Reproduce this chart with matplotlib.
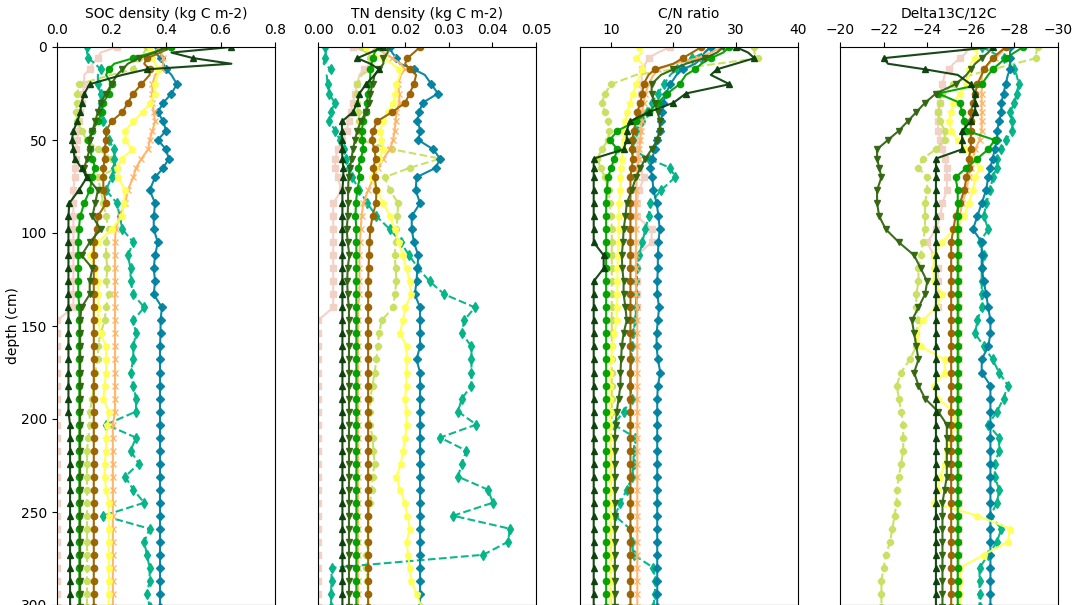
import numpy as np
import matplotlib
matplotlib.use("Agg")
import matplotlib.pyplot as plt

nan = np.nan

# ============================
#       DATA
# ============================

depth = [0, 3, 6, 9, 12, 15, 20, 25, 30, 35, 40, 45, 50, 55, 60, 65, 70,
         77, 84, 91, 98, 105, 112, 119, 126, 133, 140, 147,
         154, 161, 168, 175, 182, 189, 196, 203, 210, 217, 224,
         231, 238, 245, 252, 259, 266, 273, 280, 287, 294, 301]

# --- SOC density (kg C m-2) ---
soc_p1 = [0.64, 0.42, 0.50, 0.64, 0.33, 0.24, 0.12, 0.10, 0.09, 0.085, 0.075, 0.06, 0.055, 0.06, 0.065, 0.09, 0.11,
          0.08, 0.045, 0.042, 0.042, 0.042, 0.042, 0.042, 0.042, 0.042, 0.042, 0.042,
          0.042, 0.042, 0.042, 0.042, 0.042, 0.042, 0.042, 0.048, 0.048, 0.048, 0.048,
          0.048, 0.048, 0.048, 0.048, 0.048, 0.048, 0.048, 0.048, 0.048, 0.048, 0.048]
soc_p2 = [0.40, 0.36, 0.30, 0.26, 0.24, 0.22, 0.20, 0.18, 0.16, 0.15, 0.14, 0.13, 0.12, 0.12, 0.11, 0.10, 0.11,
          0.15, 0.14, 0.13, 0.16, 0.12, 0.09, 0.13, 0.12, 0.12, 0.09, 0.085,
          0.085, 0.085, 0.085, 0.085, 0.085, 0.085, 0.085, 0.085, 0.085, 0.085, 0.085,
          0.085, 0.085, 0.085, 0.085, 0.085, 0.085, 0.085, 0.085, 0.085, 0.085, 0.085]
soc_p3 = [0.42, 0.35, 0.28, 0.21, 0.19, 0.18, 0.20, 0.19, 0.17, 0.165, 0.15, 0.13, 0.115, 0.12, 0.13, 0.14, 0.13,
          0.12, 0.10, 0.085, 0.08, 0.078, 0.078, 0.078, 0.078, 0.078, 0.082, 0.082,
          0.082, 0.082, 0.082, 0.082, 0.082, 0.082, 0.082, 0.082, 0.082, 0.082, 0.082,
          0.082, 0.082, 0.082, 0.082, 0.082, 0.082, 0.082, 0.082, 0.082, 0.082, 0.082]
soc_p4 = [0.33, 0.32, 0.30, 0.29, 0.28, 0.20, 0.08, 0.075, 0.073, 0.07, 0.075, 0.09, 0.11, 0.15, 0.20, 0.22, 0.15,
          0.16, 0.17, 0.18, 0.19, 0.18, 0.18, 0.185, 0.18, 0.19, 0.18, 0.175,
          0.16, 0.15, 0.15, 0.14, 0.135, 0.13, 0.12, 0.12, 0.115, 0.11, 0.11,
          0.11, 0.11, 0.11, 0.11, 0.11, 0.11, 0.11, 0.11, 0.11, 0.11, 0.11]
soc_p5 = [0.42, 0.38, 0.33, 0.32, 0.34, 0.34, 0.31, 0.28, 0.26, 0.24, 0.20, 0.18, 0.18, 0.175, 0.175, 0.17, 0.17,
          0.17, 0.18, 0.15, 0.145, 0.135, 0.135, 0.135, 0.135, 0.135, 0.135, 0.135,
          0.135, 0.135, 0.135, 0.135, 0.135, 0.135, 0.135, 0.135, 0.135, 0.135, 0.135,
          0.135, 0.135, 0.135, 0.135, 0.135, 0.135, 0.135, 0.135, 0.135, 0.135, 0.135]
soc_p6 = [0.37, 0.38, 0.39, 0.39, 0.385, 0.36, 0.35, 0.35, 0.35, 0.355, 0.36, 0.35, 0.34, 0.335, 0.31, 0.29, 0.28,
          0.26, 0.25, 0.23, 0.215, 0.213, 0.213, 0.213, 0.213, 0.213, 0.213, 0.213,
          0.213, 0.213, 0.213, 0.213, 0.213, 0.213, 0.213, 0.205, 0.205, 0.205, 0.205,
          0.205, 0.205, 0.205, 0.205, 0.205, 0.205, 0.205, 0.205, 0.205, 0.205, 0.205]
soc_p7 = [0.34, 0.35, 0.35, 0.36, 0.37, 0.37, 0.36, 0.36, 0.34, 0.315, 0.28, 0.25, 0.25, 0.275, 0.24, 0.22, 0.225,
          0.25, 0.245, 0.24, 0.20, 0.15, 0.12, 0.14, 0.15, 0.15, 0.15, 0.15,
          0.16, 0.18, 0.18, 0.18, 0.175, 0.17, 0.19, 0.185, 0.18, 0.18, 0.175,
          0.175, 0.18, 0.19, 0.19, 0.19, 0.19, 0.19, 0.19, 0.19, 0.19, 0.19]
soc_p8 = [0.11, 0.11, 0.115, 0.14, 0.16, 0.15, 0.15, 0.16, 0.16, 0.16, 0.17, 0.18, 0.19, 0.21, 0.21, 0.21, 0.20,
          0.18, 0.22, 0.23, 0.24, 0.28, 0.26, 0.27, 0.27, 0.28, 0.32, 0.28,
          0.29, 0.28, 0.28, 0.27, 0.28, 0.29, 0.29, 0.18, 0.29, 0.27, 0.30,
          0.25, 0.28, 0.32, 0.17, 0.34, 0.32, 0.33, 0.34, 0.34, 0.33, 0.34]
soc_p9 = [0.37, 0.36, 0.38, 0.39, 0.40, 0.42, 0.44, 0.42, 0.39, 0.37, 0.39, 0.40, 0.37, 0.40, 0.41, 0.39, 0.36,
          0.34, 0.36, 0.355, 0.355, 0.37, 0.36, 0.355, 0.36, 0.355, 0.385, 0.38,
          0.38, 0.378, 0.378, 0.378, 0.378, 0.378, 0.378, 0.378, 0.378, 0.378, 0.378,
          0.378, 0.378, 0.378, 0.378, 0.378, 0.378, 0.378, 0.378, 0.378, 0.378, 0.378]
soc_p10 = [0.22, 0.16, 0.15, 0.13, 0.12, 0.10, 0.10, 0.095, 0.09, 0.085, 0.08, 0.078, 0.075, 0.07, 0.068, 0.066, 0.065,
           0.06, 0.06, 0.06, 0.06, 0.06, 0.06, 0.06, 0.06, 0.06, 0.06, 0.0,
           0.0, 0.0, 0.0, 0.0, 0.0, 0.0, 0.0, 0.0, 0.0, 0.0, 0.0,
           0.0, 0.0, 0.0, 0.0, 0.0, 0.0, 0.0, 0.0, 0.0, 0.0, 0.0]

# --- TN density ---
tn_p1 = [0.015, 0.012, 0.009, 0.012, 0.014, 0.013, 0.011, 0.0095, 0.009, 0.008, 0.0055, 0.0055, 0.0055, 0.0055, 0.0056, 0.0058, 0.0058,
         0.0056, 0.0056, 0.0056, 0.0056, 0.0056, 0.0056, 0.0056, 0.0056, 0.0056, 0.0056, 0.0056,
         0.0056, 0.0056, 0.0056, 0.0056, 0.0056, 0.0056, 0.0056, 0.0056, 0.0056, 0.0056, 0.0056,
         0.0056, 0.0056, 0.0056, 0.0056, 0.0056, 0.0056, 0.0056, 0.0056, 0.0056, 0.0056, 0.0056]
tn_p2 = [0.016, 0.016, 0.015, 0.015, 0.014, 0.013, 0.0125, 0.012, 0.0118, 0.011, 0.0098, 0.009, 0.0085, 0.008, 0.0077, 0.0073, 0.007,
         0.0069, 0.0069, 0.0068, 0.0066, 0.0068, 0.0072, 0.0068, 0.0067, 0.0068, 0.0071, 0.0071,
         0.0071, 0.0071, 0.0071, 0.0071, 0.0071, 0.0071, 0.0071, 0.0071, 0.0071, 0.0071, 0.0071,
         0.0071, 0.0071, 0.0071, 0.0071, 0.0071, 0.0071, 0.0071, 0.0071, 0.0071, 0.0071, 0.0071]
tn_p3 = [0.014, 0.013, 0.0125, 0.0123, 0.012, 0.012, 0.0118, 0.0115, 0.0112, 0.011, 0.0104, 0.010, 0.0102, 0.0104, 0.0098, 0.0092, 0.0096,
         0.009, 0.0087, 0.0086, 0.0088, 0.0088, 0.0088, 0.0088, 0.0088, 0.0088, 0.0088, 0.0088,
         0.0088, 0.0088, 0.0088, 0.0088, 0.0088, 0.0088, 0.0088, 0.0088, 0.0088, 0.0088, 0.0088,
         0.0088, 0.0088, 0.0088, 0.0088, 0.0088, 0.0088, 0.0088, 0.0088, 0.0088, 0.0088, 0.0088]
tn_p4 = [0.010, 0.011, 0.012, 0.013, 0.012, 0.010, 0.009, 0.0089, 0.009, 0.0092, 0.0095, 0.0096, 0.0098, 0.017, 0.028, 0.021, 0.0153,
         0.0165, 0.0184, 0.0182, 0.018, 0.0178, 0.0176, 0.0178, 0.018, 0.0176, 0.0173, 0.0146,
         0.014, 0.0137, 0.0134, 0.013, 0.0125, 0.012, 0.012, 0.0119, 0.0125, 0.0127, 0.013,
         0.0125, 0.0123, 0.012, 0.0115, 0.0115, 0.0113, 0.0111, 0.0111, 0.0113, 0.0115, 0.0115]
tn_p5 = [0.0234, 0.022, 0.0205, 0.020, 0.021, 0.0225, 0.022, 0.021, 0.020, 0.017, 0.0135, 0.0127, 0.0123, 0.013, 0.0132, 0.0127, 0.013,
         0.0134, 0.0133, 0.0125, 0.012, 0.0118, 0.0117, 0.0116, 0.0115, 0.0115, 0.0115, 0.0115,
         0.0115, 0.0115, 0.0115, 0.0115, 0.0115, 0.0115, 0.0115, 0.0115, 0.0115, 0.0115, 0.0115,
         0.0115, 0.0115, 0.0115, 0.0115, 0.0115, 0.0115, 0.0115, 0.0115, 0.0115, 0.0115, 0.0115]
tn_p6 = [0.013, 0.015, 0.017, 0.019, 0.0199, 0.019, 0.0184, 0.0186, 0.0187, 0.018, 0.0178, 0.0176, 0.0172, 0.0165, 0.015, 0.0138, 0.0128,
         0.0115, 0.0104, 0.010, 0.0098, 0.0096, 0.0095, 0.0095, 0.0095, 0.0095, 0.0092, 0.0092,
         0.0092, 0.0092, 0.0092, 0.0092, 0.0092, 0.0092, 0.0092, 0.0092, 0.0092, 0.0092, 0.0092,
         0.0092, 0.0092, 0.0092, 0.0092, 0.0092, 0.0092, 0.0092, 0.0092, 0.0092, 0.0092, 0.0092]
tn_p7 = [0.011, 0.012, 0.015, 0.017, 0.0185, 0.0188, 0.018, 0.0177, 0.0173, 0.016, 0.015, 0.0142, 0.0145, 0.015, 0.014, 0.013, 0.0123,
         0.0135, 0.015, 0.0165, 0.0176, 0.0185, 0.0194, 0.0203, 0.021, 0.0214, 0.020, 0.0195,
         0.0188, 0.0203, 0.0203, 0.0203, 0.0203, 0.0199, 0.0203, 0.0203, 0.020, 0.0195, 0.019,
         0.018, 0.0188, 0.0199, 0.0205, 0.0211, 0.0203, 0.0207, 0.021, 0.0214, 0.0226, 0.0237]
tn_p8 = [0.0016, 0.0018, 0.0015, 0.0013, 0.003, 0.002, 0.0022, 0.0026, 0.0038, 0.003, 0.0025, 0.004, 0.005, 0.006, 0.0065, 0.007, 0.0078,
         0.0095, 0.0113, 0.0134, 0.0165, 0.019, 0.0209, 0.023, 0.0256, 0.029, 0.036, 0.0335,
         0.033, 0.0352, 0.0352, 0.0352, 0.0352, 0.033, 0.0321, 0.0363, 0.028, 0.034, 0.033,
         0.0321, 0.039, 0.0401, 0.031, 0.044, 0.0436, 0.0379, 0.0031, 0.0031, 0.003, 0.003]
tn_p9 = [0.0165, 0.017, 0.018, 0.0188, 0.022, 0.0245, 0.026, 0.0275, 0.024, 0.0232, 0.0228, 0.0235, 0.023, 0.0264, 0.028, 0.027, 0.0226,
         0.0224, 0.0234, 0.0215, 0.0215, 0.022, 0.023, 0.0228, 0.0226, 0.0222, 0.0234, 0.0234,
         0.0234, 0.0234, 0.0226, 0.0234, 0.0234, 0.0234, 0.0234, 0.0234, 0.0234, 0.0234, 0.0234,
         0.0234, 0.0234, 0.0234, 0.0234, 0.0234, 0.0234, 0.0234, 0.0234, 0.0234, 0.0234, 0.0234]
tn_p10 = [0.008, 0.0115, 0.0123, 0.012, 0.0105, 0.0095, 0.009, 0.0085, 0.008, 0.0075, 0.007, 0.0066, 0.0055, 0.0045, 0.004, 0.0039, 0.0045,
          0.0054, 0.0035, 0.0035, 0.0035, 0.0035, 0.0035, 0.0035, 0.0035, 0.0035, 0.0035, 0.0,
          0.0, 0.0, 0.0, 0.0, 0.0, 0.0, 0.0, 0.0, 0.0, 0.0, 0.0,
          0.0, 0.0, 0.0, 0.0, 0.0, 0.0, 0.0, 0.0, 0.0, 0.0, 0.0]

# --- C/N ratio ---
cn_p1 = [30, 32, 33, 30, 27, 26, 29, 22, 20, 16, 13, 12.5, 12.5, 12, 7.2, 7.2, 7.2,
         7.2, 7.2, 7.2, 7.2, 7.2, 8.8, 8.8, 7.2, 7.2, 7.2, 7.2,
         7.2, 7.2, 7.2, 7.2, 7.2, 7.2, 7.2, 7.2, 7.2, 7.2, 7.2,
         7.2, 7.2, 7.2, 7.2, 7.2, 7.2, 7.2, 7.2, 7.2, 7.2, 7.2]
cn_p2 = [28, 27, 25, 22, 20, 18, 16.5, 16.5, 17, 17.5, 17.8, 17.8, 17.4, 16.5, 15.5, 14.7, 14,
         13.3, 12.5, 12.3, 12, 11.9, 11.7, 11.8, 12, 12, 12.3, 12.5,
         12, 11.7, 11.6, 11.5, 11.5, 11.2, 10.9, 10.7, 10.6, 10.6, 10.6,
         10.6, 10.6, 10.6, 10.6, 10.6, 10.6, 10.6, 10.6, 10.6, 10.6, 10.6]
cn_p3 = [29, 28, 26, 24.5, 23.5, 22, 21, 19, 17.5, 16, 14, 11, 9.8, 11, 10.5, 10, 9.5,
         9.3, 9.2, 9.2, 9.2, 9.2, 9.2, 9.2, 9.2, 9.2, 9.2, 9.2,
         9.2, 9.2, 9.2, 9.2, 9.2, 9.2, 9.2, 9.2, 9.2, 9.2, 9.2,
         9.2, 9.2, 9.2, 9.2, 9.2, 9.2, 9.2, 9.2, 9.2, 9.2, 9.2]
cn_p4 = [33, 33, 33.5, 27, 20, 14, 10, 9, 8.5, 9, 9.5, 9.7, 9.5, 8.5, 7.8, 8.3, 9,
         9.6, 9.8, 10, 10.1, 10.1, 10.1, 10.1, 10.1, 10.1, 10.1, 10.1,
         10.1, 10.1, 10.1, 10.1, 10.1, 10.1, 10.1, 10.1, 9.9, 9.9, 9.9,
         9.9, 9.9, 9.9, 9.9, 9.9, 9.9, 9.9, 9.9, 9.9, 9.9, 9.9]
cn_p5 = [24.5, 23, 21.5, 20, 17, 16, 15.2, 15, 14.7, 14.2, 14, 13.6, 13.4, 13.3, 13.5, 13.3, 13.1,
         13.1, 13.1, 13.1, 13.1, 13.1, 13.1, 13.1, 13.1, 13.1, 13.1, 13.1,
         13.1, 13.1, 13.1, 13.1, 13.1, 13.1, 13.1, 13.1, 13.1, 13.1, 13.1,
         13.1, 13.1, 13.1, 13.1, 13.1, 13.1, 13.1, 13.1, 13.1, 13.1, 13.1]
cn_p6 = [28, 26, 24, 20, 17.5, 16.8, 16, 15.5, 15.2, 15, 14.9, 14.8, 14.7, 14.5, 14.4, 14.2, 14.1,
         14.0, 14.0, 14.0, 14.0, 14.0, 14.0, 14.0, 14.0, 14.0, 14.2, 14.2,
         14.2, 14.2, 14.2, 14.2, 14.2, 14.2, 14.2, 14.2, 14.2, 14.2, 14.2,
         14.2, 14.2, 14.2, 14.2, 14.2, 14.2, 14.2, 14.2, 14.2, 14.2, 14.2]
cn_p7 = [14.5, 15, 14, 15, 15, 14.7, 14, 13.5, 13, 12.6, 12.3, 12.1, 12, 11.9, 11.7, 11.6, 11.5,
         11.5, 11.3, 11.2, 11.2, 11.2, 11.1, 11, 11, 11, 10.9, 10.9,
         10.5, 10.2, 10, 9.8, 9.8, 9.8, 9.8, 9.8, 9.8, 9.8, 9.8,
         9.8, 9.8, 9.8, 9.8, 9.8, 9.8, 9.8, 9.8, 9.8, 9.8, 9.8]
cn_p8 = [26, 25, 23, 21.5, 20.5, 19.5, 18.5, 17.5, 16.5, 15.8, 15, 14, 13.5, 13.3, 16, 19.5, 20.3,
         18, 16.3, 16, 15.5, 15, 14.5, 14.2, 14, 14, 14, 13.9,
         13.5, 13.3, 13.2, 13.1, 13.1, 13.3, 12, 10.4, 13.9, 13.6, 13.6,
         13.4, 12.5, 11.5, 10.6, 13, 13.3, 13.6, 16.8, 17.1, 17, 16.8]
cn_p9 = [26, 25, 24.5, 23.5, 21.5, 20.5, 19.5, 18.8, 18.4, 18.2, 18, 17.8, 17.4, 17, 16.6, 16.3, 16.6,
         16.8, 17.3, 17.6, 17.8, 17.6, 17.5, 17.5, 17.4, 17.4, 17.7, 17.5,
         17.3, 17.3, 17.5, 17.9, 17.5, 17.4, 17.4, 17.4, 17.4, 17.4, 17.4,
         17.4, 17.4, 17.4, 17.4, 17.4, 17.4, 17.4, 17.4, 17.4, 17.4, 17.4]
cn_p10 = [19.5, 17.5, 16, 15.5, 15, 14.9, 14.9, 14.8, 14.7, 14.7, 14.7, 14.5, 14.3, 14.1, 14.2, 14.5, 15.3,
          14.5, 14.1, 14.1, 16.5, 16.5, 14.1, 14.1, 14.1, 14.1, 14.1, nan,
          nan, nan, nan, nan, nan, nan, nan, nan, nan, nan, nan,
          nan, nan, nan, nan, nan, nan, nan, nan, nan, nan, nan]

# --- Delta13C/12C ---
d13_p1 = [-27, -24.5, -22, -22.2, -23.9, -25.4, -26, -26.2, -26.2, -26.2, -26, -25.6, -25.6, -25.6, -24.4, -24.4, -24.4,
          -24.4, -24.4, -24.4, -24.4, -24.4, -24.4, -24.4, -24.4, -24.4, -24.4, -24.4,
          -24.4, -24.4, -24.4, -24.4, -24.4, -24.4, -24.4, -24.4, -24.4, -24.4, -24.4,
          -24.4, -24.4, -24.4, -24.4, -24.4, -24.4, -24.4, -24.4, -24.4, -24.4, -24.4]
d13_p2 = [-27, -26.8, -26.5, -26.2, -26, -25.8, -25.3, -24.4, -23.9, -23.5, -23.1, -22.7, -22.2, -21.7, -21.7, -21.8, -21.9,
          -21.7, -21.7, -21.8, -22.1, -22.7, -23.4, -23.7, -24, -23.9, -23.6, -23.3,
          -23.4, -23.5, -23.6, -23.4, -23.6, -23.9, -24.5, -24.9, -24.9, -24.9, -24.9,
          -24.9, -24.8, -24.7, -24.7, -24.7, -24.7, -24.7, -24.7, -24.7, -24.7, -24.7]
d13_p3 = [-28.4, -28, -27.6, -27.3, -27, -26.8, -26.5, -24.5, -25.5, -25.6, -25.7, -25.8, -27.1, -26.8, -26.3, -25.8, -25.3,
          -25.4, -25.4, -25.4, -25.4, -25.4, -25.4, -25.4, -25.4, -25.4, -25.4, -25.4,
          -25.4, -25.4, -25.4, -25.4, -25.4, -25.4, -25.4, -25.4, -25.4, -25.4, -25.4,
          -25.4, -25.4, -25.4, -25.4, -25.4, -25.4, -25.4, -25.4, -25.4, -25.4, -25.4]
d13_p4 = [-29.1, -29, -29, -28, -27, -26, -25.2, -24.7, -24.6, -24.5, -24.6, -24.8, -24.8, -24.4, -23.8, -23.6, -24,
          -24, -23.9, -23.9, -23.9, -23.8, -23.7, -23.6, -23.6, -23.5, -23.5, -23.6,
          -23.5, -23.5, -23.2, -22.8, -22.6, -22.7, -22.8, -22.9, -22.9, -22.9, -22.8,
          -22.7, -22.6, -22.6, -22.5, -22.4, -22.3, -22.1, -22, -21.9, -21.9, -21.9]
d13_p5 = [-27.6, -27.3, -27, -26.8, -26.6, -26.5, -26.3, -26.2, -26.1, -26, -26, -26, -26, -26, -25.9, -25.9, -25.8,
          -25.7, -25.5, -25.3, -25.2, -25.1, -25.1, -25.1, -25.1, -25.1, -25.1, -25.1,
          -25.1, -25.1, -25.1, -25.1, -25.1, -25.1, -25.1, -25.1, -25.1, -25.1, -25.1,
          -25.1, -25.1, -25.1, -25.1, -25.1, -25.1, -25.1, -25.1, -25.1, -25.1, -25.1]
d13_p6 = [-27.6, -27.4, -27.1, -26.8, -26.6, -26.5, -26.5, -26.5, -26.5, -26.5, -26.5, -26.5, -26.4, -26.2, -26.1, -26, -25.9,
          -25.8, -25.6, -25.5, -25.45, -25.45, -25.45, -25.45, -25.45, -25.45, -25.45, -25.45,
          -25.45, -25.45, -25.45, -25.45, -25.45, -25.45, -25.45, -25.45, -25.45, -25.45, -25.45,
          -25.45, -25.45, -25.45, -25.45, -25.45, -25.45, -25.45, -25.45, -25.45, -25.45, -25.45]
d13_p7 = [-26.2, -26.3, -26.2, -26, -25.9, -25.9, -25.8, -25.5, -25.2, -25.1, -25, -25.1, -25.4, -25.8, -26.1, -26.4, -26.2,
          -26.1, -25.9, -25.7, -25.2, -24.7, -24.3, -24.3, -24.3, -24.7, -24.4, -23.8,
          -23.5, -23.7, -24.8, -24.8, -24.3, -24.5, -25.2, -25.3, -25.1, -24.9, -24.8,
          -24.6, -24.5, -24.3, -26.3, -27.8, -27.7, -26.6, -25.5, -25.5, -25.5, -25.5]
d13_p8 = [-26.5, -27, -27.5, -27.7, -28, -28.1, -28.2, -28.1, -28, -27.8, -27.9, -27.9, -27.6, -27.4, -27.2, -27.2, -27,
          -26.9, -26.7, -26.6, -26.8, -26.4, -26.6, -26.5, -26.5, -26.5, -26.5, -26.3,
          -26.2, -26.6, -27, -27.3, -27.7, -27.5, -27.2, -26.8, -27.3, -27.3, -27.1,
          -27.1, -27.3, -27.2, -26.9, -27.4, -27.2, -26.8, -26.4, -26.4, -26.4, -26.4]
d13_p9 = [-27.8, -27.8, -27.8, -27.8, -27.8, -27.7, -27.6, -27.5, -27.4, -27.4, -27.3, -27.2, -27.2, -27.1, -27, -26.9, -26.8,
          -26.7, -26.5, -26.3, -26.1, -26.5, -26.5, -26.5, -26.6, -26.7, -26.8, -26.9,
          -26.9, -26.8, -26.5, -26.5, -26.9, -26.9, -26.9, -26.9, -26.9, -26.9, -26.9,
          -26.9, -26.9, -26.9, -26.9, -26.9, -26.9, -26.9, -26.9, -26.9, -26.9, -26.9]
d13_p10 = [-25.8, -25.8, -25.5, -25.2, -25, -24.8, -24.7, -24.6, -24.6, -24.5, -24.5, -24.5, -24.6, -24.7, -24.8, -24.9, -24.9,
           -24.9, -24.7, -24.6, -24.4, -24, -24.3, -24.5, -24.5, -24.5, -24.5, nan,
           nan, nan, nan, nan, nan, nan, nan, nan, nan, nan, nan,
           nan, nan, nan, nan, nan, nan, nan, nan, nan, nan, nan]

# ============================
#       STYLES
# ============================

# (color, marker, linestyle, markersize) per profile, p1..p10
styles = [
    ('#0b3f0b', '^', '-', 5),
    ('#336611', 'v', '-', 5),
    ('#00a000', 'o', '-', 4.5),
    ('#c8e060', '8', '--', 5),
    ('#9a6200', 'o', '-', 4.5),
    ('#ffb366', 'x', '-', 4.5),
    ('#ffff55', 'p', '-', 5),
    ('#00b386', 'd', '--', 5),
    ('#0082a0', 'D', '-', 4),
    ('#f2d0c4', 's', '-', 5),
]
draw_order = [9, 3, 7, 8, 5, 6, 4, 2, 1, 0]

panels = [
    ('SOC density (kg C m-2)', (0, 0.8), [0.0, 0.2, 0.4, 0.6, 0.8],
     [soc_p1, soc_p2, soc_p3, soc_p4, soc_p5, soc_p6, soc_p7, soc_p8, soc_p9, soc_p10]),
    ('TN density (kg C m-2)', (0, 0.05), [0.0, 0.01, 0.02, 0.03, 0.04, 0.05],
     [tn_p1, tn_p2, tn_p3, tn_p4, tn_p5, tn_p6, tn_p7, tn_p8, tn_p9, tn_p10]),
    ('C/N ratio', (5, 40), [10, 20, 30, 40],
     [cn_p1, cn_p2, cn_p3, cn_p4, cn_p5, cn_p6, cn_p7, cn_p8, cn_p9, cn_p10]),
    ('Delta13C/12C', (-20, -30), [-20, -22, -24, -26, -28, -30],
     [d13_p1, d13_p2, d13_p3, d13_p4, d13_p5, d13_p6, d13_p7, d13_p8, d13_p9, d13_p10]),
]

for name, lim, ticks, series in panels:
    for s in series:
        if len(s) != len(depth):
            raise ValueError(name + ': bad length %d' % len(s))

# markers only on the coarser sampling points
mark_idx = [i for i, d in enumerate(depth) if d not in (3, 9, 15)]

# ============================
#       PLOT
# ============================

fig = plt.figure(figsize=(10.72, 6.05), dpi=100)
lefts = [57, 318, 580, 840]

for k, (name, lim, ticks, series) in enumerate(panels):
    ax = fig.add_axes([lefts[k] / 1072, 0.0, 218 / 1072, 558 / 605])
    for i in draw_order:
        c, m, ls, ms = styles[i]
        ax.plot(series[i], depth, color=c, marker=m, linestyle=ls, markersize=ms,
                linewidth=1.5, markevery=mark_idx, alpha=0.95)
    ax.set_xlim(*lim)
    ax.set_ylim(300, 0)
    ax.set_xticks(ticks)
    ax.xaxis.tick_top()
    ax.xaxis.set_label_position('top')
    ax.set_xlabel(name)
    if k == 0:
        ax.set_yticks([0, 50, 100, 150, 200, 250, 300])
        ax.set_ylabel('depth (cm)', labelpad=1)
    else:
        ax.set_yticks([])

fig.savefig('out.png', dpi=100)
